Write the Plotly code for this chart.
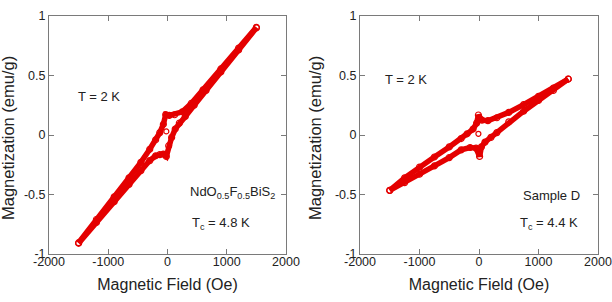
import plotly.graph_objects as go

# ---------------- data ----------------
# Left panel: NdO0.5F0.5BiS2, T = 2 K
left_down_H = [1500, 1200, 900, 600, 400, 250, 120, 30, -30, -70, -130, -200, -300, -450, -650, -900, -1200, -1500]
left_down_M = [0.905, 0.73, 0.555, 0.38, 0.265, 0.195, 0.17, 0.165, 0.172, 0.09, 0.02, -0.04, -0.12, -0.23, -0.36, -0.52, -0.71, -0.905]
left_up_H = [-1500, -1200, -900, -650, -450, -300, -200, -130, -70, -20, 20, 70, 130, 200, 300, 450, 650, 900, 1200, 1500]
left_up_M = [-0.91, -0.735, -0.56, -0.415, -0.30, -0.215, -0.175, -0.165, -0.16, -0.18, -0.09, -0.02, 0.05, 0.10, 0.155, 0.25, 0.375, 0.53, 0.715, 0.90]
left_virgin_H = [-20]
left_virgin_M = [0.03]

# Right panel: Sample D, T = 2 K
right_down_H = [1500, 1250, 1000, 750, 500, 300, 150, 50, -10, -40, -100, -200, -300, -500, -750, -1000, -1250, -1500]
right_down_M = [0.47, 0.395, 0.325, 0.255, 0.19, 0.145, 0.12, 0.125, 0.168, 0.10, 0.05, 0.01, -0.03, -0.10, -0.185, -0.27, -0.36, -0.465]
right_up_H = [-1500, -1250, -1000, -750, -500, -300, -150, -50, 10, 40, 100, 200, 300, 500, 750, 1000, 1250, 1500]
right_up_M = [-0.465, -0.40, -0.33, -0.26, -0.19, -0.125, -0.105, -0.11, -0.18, -0.10, -0.06, -0.02, 0.02, 0.11, 0.20, 0.29, 0.375, 0.47]
right_virgin_H = [-10]
right_virgin_M = [0.01]

x_tick_vals = [-2000, -1000, 0, 1000, 2000]
x_tick_text = ["-2000", "-1000", "0", "1000", "2000"]
y_tick_vals = [-1, -0.5, 0, 0.5, 1]
y_tick_text = ["-1", "-0.5", "0", "0.5", "1"]

x_title = "Magnetic Field (Oe)"
y_title = "Magnetization (emu/g)"

RED = "rgb(228,0,0)"
FONT = "Arial, Liberation Sans, sans-serif"
AXC = "#7a7a7a"

fig = go.Figure()

def branch(H, M, xa, ya):
    fig.add_trace(go.Scatter(
        x=H, y=M, xaxis=xa, yaxis=ya, mode="lines+markers",
        line=dict(color=RED, width=5.5),
        marker=dict(symbol="circle-open", size=6, color=RED, line=dict(width=1.2)),
        showlegend=False, hoverinfo="skip"))

branch(left_down_H, left_down_M, "x", "y")
branch(left_up_H, left_up_M, "x", "y")
branch(right_down_H, right_down_M, "x2", "y2")
branch(right_up_H, right_up_M, "x2", "y2")

for H, M, xa, ya in [(left_virgin_H, left_virgin_M, "x", "y"),
                     (right_virgin_H, right_virgin_M, "x2", "y2")]:
    fig.add_trace(go.Scatter(
        x=H, y=M, xaxis=xa, yaxis=ya, mode="markers",
        marker=dict(symbol="circle-open", size=5, color=RED, line=dict(width=1.2)),
        showlegend=False, hoverinfo="skip"))

common_x = dict(range=[-2000, 2000], tickmode="array", tickvals=x_tick_vals, ticktext=x_tick_text,
                ticks="inside", ticklen=5, tickcolor=AXC, showline=True, linecolor=AXC, linewidth=1,
                mirror="ticks", showgrid=False, zeroline=False, automargin=False,
                ticklabelstandoff=-4,
                tickfont=dict(family=FONT, size=12.5, color="#222"),
                title=dict(text=x_title, font=dict(family=FONT, size=16, color="#222"), standoff=10))
common_y = dict(range=[-1, 1], tickmode="array", tickvals=y_tick_vals, ticktext=y_tick_text,
                ticks="inside", ticklen=5, tickcolor=AXC, showline=True, linecolor=AXC, linewidth=1,
                mirror="ticks", showgrid=False, zeroline=False, automargin=False,
                tickfont=dict(family=FONT, size=12.5, color="#222"))

fig.update_layout(
    width=612, height=302, margin=dict(l=0, r=0, t=0, b=0),
    paper_bgcolor="white", plot_bgcolor="white",
    xaxis=dict(domain=[49/612, 286/612], anchor="y", **common_x),
    yaxis=dict(domain=[1-254/302, 1-16/302], anchor="x", **common_y),
    xaxis2=dict(domain=[360/612, 598/612], anchor="y2", **common_x),
    yaxis2=dict(domain=[1-254/302, 1-16/302], anchor="x2", **common_y),
)

ann_font = dict(family=FONT, size=13, color="#222")
title_font = dict(family=FONT, size=16.5, color="#222")
annotations = [
    dict(x=-1540, y=0.32, xref="x", yref="y", text="T = 2 K", showarrow=False, xanchor="left", font=ann_font),
    dict(x=340, y=-0.48, xref="x", yref="y", text="NdO<sub>0.5</sub>F<sub>0.5</sub>BiS<sub>2</sub>",
         showarrow=False, xanchor="left", font=ann_font),
    dict(x=380, y=-0.74, xref="x", yref="y", text="T<sub>c</sub> = 4.8 K", showarrow=False, xanchor="left", font=ann_font),
    dict(x=-1610, y=0.47, xref="x2", yref="y2", text="T = 2 K", showarrow=False, xanchor="left", font=ann_font),
    dict(x=700, y=-0.51, xref="x2", yref="y2", text="Sample D", showarrow=False, xanchor="left", font=ann_font),
    dict(x=650, y=-0.74, xref="x2", yref="y2", text="T<sub>c</sub> = 4.4 K", showarrow=False, xanchor="left", font=ann_font),
    # y-axis titles
    dict(x=8/612, y=1-138/302, xref="paper", yref="paper", text=y_title, textangle=-90,
         showarrow=False, xanchor="center", yanchor="middle", font=title_font),
    dict(x=315/612, y=1-138/302, xref="paper", yref="paper", text=y_title, textangle=-90,
         showarrow=False, xanchor="center", yanchor="middle", font=title_font),
]
fig.update_layout(annotations=annotations)

fig.write_html("out.html")
